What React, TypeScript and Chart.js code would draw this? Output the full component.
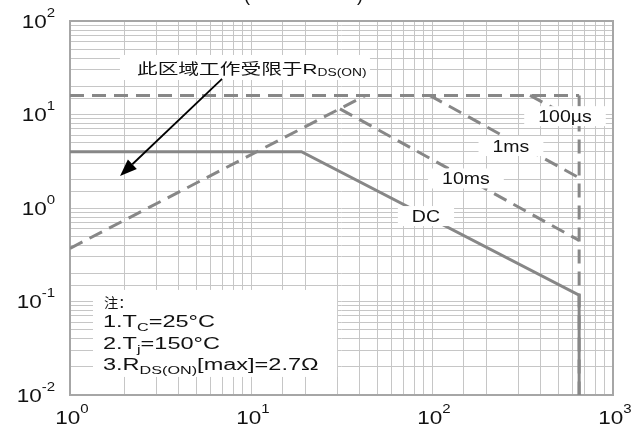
import React, { useEffect, useRef } from "react";
import { Chart, registerables } from "chart.js";

Chart.register(...registerables);

// ---- data (V_DS in volts, I_D in amperes) ----
const xTickExponents = [0, 1, 2, 3];
const yTickExponents = [-2, -1, 0, 1, 2];

const pulseLimitV = [1, 650];
const pulseLimitI = [16, 16];
const voltageLimitV = [650, 650];
const voltageLimitI = [16, 0.01];
const rdsLimitV = [1, 43];
const rdsLimitI = [0.37, 16];
const us100V = [348, 650];
const us100I = [16, 8.3];
const ms1V = [97, 650];
const ms1I = [16, 2.1];
const ms10V = [31, 650];
const ms10I = [11.5, 0.45];
const dcV = [1, 19, 650, 650];
const dcI = [4, 4, 0.117, 0.01];

const curveLabels = ["100µs", "1ms", "10ms", "DC"];
const curveLabelV = [543, 273, 154, 92.6];
const curveLabelI = [9.6, 4.6, 2.07, 0.82];

const LATIN = "'Liberation Sans', Arial, 'Noto Sans CJK SC', sans-serif";
const CJK = "'Liberation Sans', 'Noto Sans CJK SC', sans-serif";
const LINE = "#878787";
const GRID = "#c6c6c6";

type Part = { t: string; size: number; dy?: number; font?: string };

function drawRich(
  ctx: CanvasRenderingContext2D,
  parts: Part[],
  x: number,
  y: number,
  align: "left" | "center" | "right",
  sx: number
) {
  ctx.save();
  ctx.textAlign = "left";
  ctx.textBaseline = "alphabetic";
  let w = 0;
  const widths: number[] = [];
  for (const p of parts) {
    ctx.font = `${p.size}px ${p.font || LATIN}`;
    const m = ctx.measureText(p.t).width;
    widths.push(m);
    w += m;
  }
  ctx.translate(x, y);
  ctx.scale(sx, 1);
  let cx = align === "left" ? 0 : align === "center" ? -w / 2 : -w;
  parts.forEach((p, i) => {
    ctx.font = `${p.size}px ${p.font || LATIN}`;
    ctx.fillText(p.t, cx, p.dy || 0);
    cx += widths[i];
  });
  ctx.restore();
  return w * sx;
}

function pts(xs: number[], ys: number[]) {
  return xs.map((x, i) => ({ x, y: ys[i] }));
}

const annotationPlugin = {
  id: "soaAnnotations",
  beforeDatasetsDraw(chart: any) {
    const { ctx, chartArea } = chart;
    ctx.save();
    ctx.strokeStyle = "#a6a6a6";
    ctx.lineWidth = 2;
    ctx.strokeRect(
      chartArea.left,
      chartArea.top,
      chartArea.right - chartArea.left,
      chartArea.bottom - chartArea.top
    );
    ctx.restore();
  },
  afterDatasetsDraw(chart: any) {
    const { ctx } = chart;
    const xs = chart.scales.x;
    const ys = chart.scales.y;
    const px = (v: number) => xs.getPixelForValue(v);
    const py = (v: number) => ys.getPixelForValue(v);
    ctx.save();

    // curve labels with white backgrounds
    curveLabels.forEach((lab, i) => {
      const cx = px(curveLabelV[i]);
      const cy = py(curveLabelI[i]);
      ctx.font = `16px ${LATIN}`;
      const w = ctx.measureText(lab).width * 1.22;
      ctx.fillStyle = "#ffffff";
      ctx.fillRect(cx - w / 2 - 14, cy - 10, w + 28, 20);
      ctx.fillStyle = "#111111";
      drawRich(ctx, [{ t: lab, size: 16 }], cx, cy + 5.8, "center", 1.22);
    });

    // R_DS(on) annotation
    const ax = px(2.344);
    const ay = py(32.2);
    ctx.fillStyle = "#ffffff";
    ctx.fillRect(ax - 17, ay - 12, 250, 25);
    ctx.fillStyle = "#111111";
    drawRich(
      ctx,
      [
        { t: "此区域工作受限于", size: 15, font: CJK },
        { t: "R", size: 15 },
        { t: "DS(ON)", size: 10, dy: 2 },
      ],
      ax,
      ay + 7,
      "left",
      1.38
    );

    // arrow
    const tx = px(6.92), tyy = py(24);
    const hx = px(1.89), hy = py(2.2);
    const ang = Math.atan2(hy - tyy, hx - tx);
    const hl = 17, hw = 6.5;
    const bx = hx - hl * Math.cos(ang);
    const by = hy - hl * Math.sin(ang);
    ctx.strokeStyle = "#000000";
    ctx.lineWidth = 1.8;
    ctx.beginPath();
    ctx.moveTo(tx, tyy);
    ctx.lineTo(bx, by);
    ctx.stroke();
    ctx.fillStyle = "#000000";
    ctx.beginPath();
    ctx.moveTo(hx, hy);
    ctx.lineTo(bx + hw * Math.sin(ang), by - hw * Math.cos(ang));
    ctx.lineTo(bx - hw * Math.sin(ang), by + hw * Math.cos(ang));
    ctx.closePath();
    ctx.fill();

    // notes box
    const nl = px(1.34), nt = py(0.133);
    const nr = px(29.9), nb = py(0.0156);
    ctx.fillStyle = "#ffffff";
    ctx.fillRect(nl, nt, nr - nl, nb - nt);
    ctx.fillStyle = "#111111";
    const tx0 = nl + 11;
    drawRich(ctx, [{ t: "注：", size: 13, font: CJK }], tx0, nt + 17, "left", 1.1);
    drawRich(
      ctx,
      [
        { t: "1.T", size: 16 },
        { t: "C", size: 11, dy: 4 },
        { t: "=25°C", size: 16 },
      ],
      tx0 - 1,
      nt + 37.5,
      "left",
      1.47
    );
    drawRich(
      ctx,
      [
        { t: "2.T", size: 16 },
        { t: "j", size: 11, dy: 4 },
        { t: "=150°C", size: 16 },
      ],
      tx0 - 1,
      nt + 59,
      "left",
      1.47
    );
    drawRich(
      ctx,
      [
        { t: "3.R", size: 16 },
        { t: "DS(ON)", size: 11, dy: 4 },
        { t: "[max]=2.7Ω", size: 16 },
      ],
      tx0 - 1,
      nt + 80.5,
      "left",
      1.47
    );
    ctx.restore();
  },
  afterDraw(chart: any) {
    const { ctx, chartArea } = chart;
    const xs = chart.scales.x;
    const ys = chart.scales.y;
    ctx.save();
    ctx.fillStyle = "#111111";
    // x tick labels
    xTickExponents.forEach((e) => {
      const x = xs.getPixelForValue(Math.pow(10, e));
      drawRich(
        ctx,
        [
          { t: "10", size: 18 },
          { t: String(e), size: 12, dy: -11 },
        ],
        x + 2,
        chartArea.bottom + 29,
        "center",
        1.25
      );
    });
    // y tick labels
    yTickExponents.forEach((e) => {
      const y = ys.getPixelForValue(Math.pow(10, e));
      drawRich(
        ctx,
        [
          { t: "10", size: 18 },
          { t: String(e).replace("-", "-"), size: 12, dy: -11 },
        ],
        chartArea.left - 15,
        y + 6.5,
        "right",
        1.25
      );
    });
    // partially visible title parentheses
    ctx.font = `18px ${LATIN}`;
    ctx.textAlign = "center";
    ctx.textBaseline = "alphabetic";
    ctx.fillText("(", 247, 1);
    ctx.fillText(")", 360, 1);
    ctx.restore();
  },
};

export default function App() {
  const ref = useRef<HTMLCanvasElement | null>(null);
  useEffect(() => {
    if (!ref.current) return;
    const dashed = { borderColor: LINE, borderWidth: 3, borderDash: [14, 8], pointRadius: 0, tension: 0, fill: false };
    const solid = { borderColor: LINE, borderWidth: 3, pointRadius: 0, tension: 0, fill: false };
    const chart = new Chart(ref.current, {
      type: "line",
      data: {
        datasets: [
          { label: "I_DM", data: pts(pulseLimitV, pulseLimitI), ...dashed },
          { label: "V_DSS", data: pts(voltageLimitV, voltageLimitI), ...dashed },
          { label: "R_DS(on)", data: pts(rdsLimitV, rdsLimitI), ...dashed },
          { label: "100µs", data: pts(us100V, us100I), ...dashed },
          { label: "1ms", data: pts(ms1V, ms1I), ...dashed },
          { label: "10ms", data: pts(ms10V, ms10I), ...dashed },
          { label: "DC", data: pts(dcV, dcI), ...solid },
        ] as any,
      },
      options: {
        animation: false,
        responsive: false,
        maintainAspectRatio: false,
        layout: { padding: { left: 70, right: 21, top: 21, bottom: 33 } },
        plugins: { legend: { display: false }, tooltip: { enabled: false }, title: { display: false } },
        scales: {
          x: {
            type: "logarithmic",
            min: 1,
            max: 1000,
            ticks: { display: false, autoSkip: false },
            grid: { color: GRID, lineWidth: 1, drawTicks: false },
            border: { display: false },
            afterFit: (s: any) => {
              s.height = 0;
            },
          },
          y: {
            type: "logarithmic",
            min: 0.01,
            max: 100,
            ticks: { display: false, autoSkip: false },
            grid: { color: GRID, lineWidth: 1, drawTicks: false },
            border: { display: false },
            afterFit: (s: any) => {
              s.width = 0;
            },
          },
        },
      } as any,
      plugins: [annotationPlugin],
    });
    return () => chart.destroy();
  }, []);
  return (
    <div style={{ position: "absolute", left: 0, top: 0, width: 634, height: 428 }}>
      <canvas ref={ref} width={634} height={428} />
    </div>
  );
}
